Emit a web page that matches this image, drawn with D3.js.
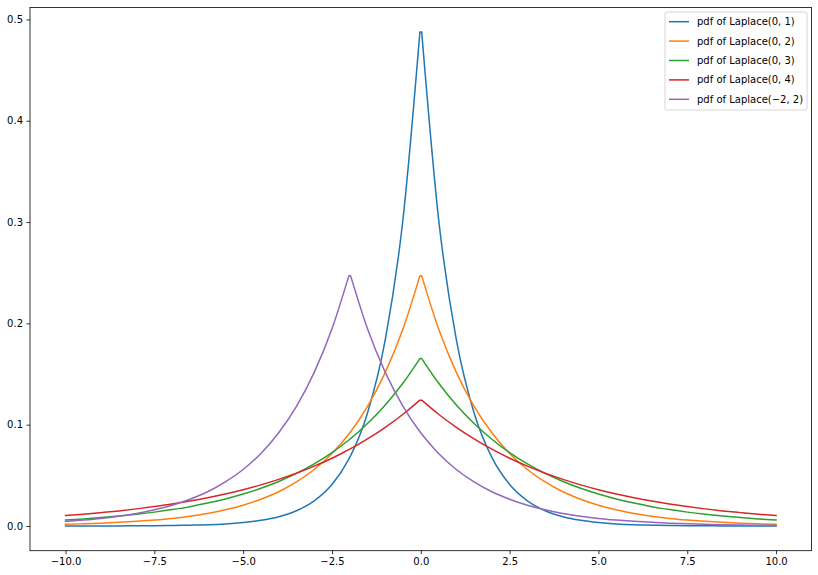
<!DOCTYPE html>
<html><head><meta charset="utf-8">
<script src="https://cdn.jsdelivr.net/npm/d3@7"></script>
<style>html,body{margin:0;padding:0;background:#fff;}svg{display:block;font-family:"DejaVu Sans",sans-serif;}</style>
</head><body>
<svg id="c" width="818" height="575"></svg>
<script>
const xs = [-10,-9.5,-9,-8.5,-8,-7.5,-7,-6.5,-6,-5.5,-5,-4.5,-4,-3.5,-3,-2.5,-2.025,-1.975,-1.5,-1,-0.5,-0.025,0.025,0.5,1,1.5,2,2.5,3,3.5,4,4.5,5,5.5,6,6.5,7,7.5,8,8.5,9,9.5,10];
const laplace01 = [0.0000,0.0000,0.0001,0.0001,0.0002,0.0003,0.0005,0.0008,0.0012,0.0020,0.0034,0.0056,0.0092,0.0151,0.0249,0.0410,0.0660,0.0694,0.1116,0.1839,0.3033,0.4877,0.4877,0.3033,0.1839,0.1116,0.0677,0.0410,0.0249,0.0151,0.0092,0.0056,0.0034,0.0020,0.0012,0.0008,0.0005,0.0003,0.0002,0.0001,0.0001,0.0000,0.0000];
const laplace02 = [0.0017,0.0022,0.0028,0.0036,0.0046,0.0059,0.0075,0.0097,0.0124,0.0160,0.0205,0.0264,0.0338,0.0435,0.0558,0.0716,0.0908,0.0931,0.1181,0.1516,0.1947,0.2469,0.2469,0.1947,0.1516,0.1181,0.0920,0.0716,0.0558,0.0435,0.0338,0.0264,0.0205,0.0160,0.0124,0.0097,0.0075,0.0059,0.0046,0.0036,0.0028,0.0022,0.0017];
const laplace03 = [0.0059,0.0070,0.0083,0.0098,0.0116,0.0137,0.0162,0.0191,0.0226,0.0267,0.0315,0.0372,0.0439,0.0519,0.0613,0.0724,0.0849,0.0863,0.1011,0.1194,0.1411,0.1653,0.1653,0.1411,0.1194,0.1011,0.0856,0.0724,0.0613,0.0519,0.0439,0.0372,0.0315,0.0267,0.0226,0.0191,0.0162,0.0137,0.0116,0.0098,0.0083,0.0070,0.0059];
const laplace04 = [0.0103,0.0116,0.0132,0.0149,0.0169,0.0192,0.0217,0.0246,0.0279,0.0316,0.0358,0.0406,0.0460,0.0521,0.0591,0.0669,0.0754,0.0763,0.0859,0.0974,0.1103,0.1242,0.1242,0.1103,0.0974,0.0859,0.0758,0.0669,0.0591,0.0521,0.0460,0.0406,0.0358,0.0316,0.0279,0.0246,0.0217,0.0192,0.0169,0.0149,0.0132,0.0116,0.0103];
const laplaceM22 = [0.0046,0.0059,0.0075,0.0097,0.0124,0.0160,0.0205,0.0264,0.0338,0.0435,0.0558,0.0716,0.0920,0.1181,0.1516,0.1947,0.2469,0.2469,0.1947,0.1516,0.1181,0.0931,0.0908,0.0716,0.0558,0.0435,0.0338,0.0264,0.0205,0.0160,0.0124,0.0097,0.0075,0.0059,0.0046,0.0036,0.0028,0.0022,0.0017,0.0013,0.0010,0.0008,0.0006];
const seriesLabels = ["pdf of Laplace(0, 1)","pdf of Laplace(0, 2)","pdf of Laplace(0, 3)","pdf of Laplace(0, 4)","pdf of Laplace(\u22122, 2)"];
const seriesValues = [laplace01, laplace02, laplace03, laplace04, laplaceM22];
const colors = ["#1f77b4","#ff7f0e","#2ca02c","#d62728","#9467bd"];
const xTicks = [-10,-7.5,-5,-2.5,0,2.5,5,7.5,10];
const yTicks = [0,0.1,0.2,0.3,0.4,0.5];

const svg = d3.select("#c");
const L = 30, R = 811.6, T = 7.4, B = 550.7;
const x = d3.scaleLinear().domain([-11, 11]).range([L, R]);
const y = d3.scaleLinear().domain([-0.02438, 0.51188]).range([B, T]);
const fmt = v => d3.format(".1f")(v).replace("-", "\u2212");

const g = svg.append("g");
// lines
const line = d3.line().x(d => x(d[0])).y(d => y(d[1])).curve(d3.curveMonotoneX);
seriesValues.forEach((vals, i) => {
  const pts = xs.map((xv, j) => [xv, vals[j]]);
  const pk = d3.maxIndex(vals);
  const left = pts.slice(0, pk + 1), right = pts.slice(pk + 1);
  const d = line(left) + "L" + line(right).slice(1);
  g.append("path").attr("d", d).attr("fill", "none").attr("stroke", colors[i])
    .attr("stroke-width", 1.5).attr("stroke-linejoin", "round").attr("stroke-linecap", "square");
});

// axes
const xAxis = d3.axisBottom(x).tickValues(xTicks).tickFormat(fmt).tickSize(3.5).tickPadding(3.5);
const yAxis = d3.axisLeft(y).tickValues(yTicks).tickFormat(fmt).tickSize(3.5).tickPadding(3.5);
const gx = svg.append("g").attr("transform", `translate(0,${B})`).call(xAxis);
const gy = svg.append("g").attr("transform", `translate(${L},0)`).call(yAxis);
[gx, gy].forEach(a => {
  a.select(".domain").remove();
  a.selectAll(".tick line").attr("stroke", "#000").attr("stroke-width", 0.8);
  a.selectAll(".tick text").attr("fill", "#000").attr("font-size", 10).attr("font-family", "DejaVu Sans");
});
// frame
svg.append("rect").attr("x", L).attr("y", T).attr("width", R - L).attr("height", B - T)
  .attr("fill", "none").attr("stroke", "#000").attr("stroke-width", 0.8);

// legend
const lg = svg.append("g");
const lx = 665, ly = 12, lw = 142, lh = 98;
lg.append("rect").attr("x", lx).attr("y", ly).attr("width", lw).attr("height", lh).attr("rx", 2)
  .attr("fill", "#fff").attr("fill-opacity", 0.8).attr("stroke", "#cccccc").attr("stroke-width", 0.8);
seriesLabels.forEach((lab, i) => {
  const yy = ly + 9.7 + i * 19.4;
  lg.append("line").attr("x1", lx + 4).attr("x2", lx + 24).attr("y1", yy).attr("y2", yy)
    .attr("stroke", colors[i]).attr("stroke-width", 1.5);
  lg.append("text").attr("x", lx + 32).attr("y", yy).attr("dy", "0.35em")
    .attr("font-size", 10).attr("fill", "#000").text(lab);
});
</script>
</body></html>
